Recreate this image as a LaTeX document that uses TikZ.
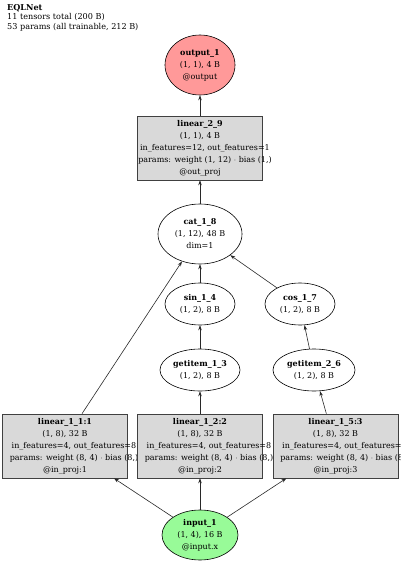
\documentclass[tikz,border=0pt]{standalone}
\usepackage{fontspec}
\setmainfont{DejaVu Serif}
\usetikzlibrary{arrows.meta,shapes.geometric}
\definecolor{boxgray}{RGB}{217,217,217}
\definecolor{outred}{RGB}{255,153,153}
\definecolor{ingreen}{RGB}{152,251,152}
\definecolor{edgecol}{RGB}{40,40,40}
\newcommand{\zl}[2][0pt]{\makebox[0pt][c]{\hspace*{#1}#2}}
\begin{document}
\begin{tikzpicture}[x=1pt,y=-1pt,
  lbl/.style={font=\fontsize{8}{12}\selectfont,align=center,inner sep=0pt},
  ell/.style={ellipse,draw=black,line width=0.6pt,lbl},
  bx/.style={rectangle,draw=black!75,line width=0.6pt,fill=boxgray,lbl,minimum width=125pt,minimum height=64pt},
  arr/.style={draw=edgecol,line width=0.6pt,-{Stealth[length=5pt,width=3.5pt]}}
]
\useasboundingbox (0,0) rectangle (400,564);
\node[anchor=north west,align=left,inner sep=0pt,font=\fontsize{8.1}{9.5}\selectfont] (hdr) at (7,4)
  {\textbf{EQLNet}\\11 tensors total (200 B)\\53 params (all trainable, 212 B)};

\node[ell,fill=outred,minimum width=70pt,minimum height=60pt] (out) at (200,65)
  {\textbf{output\_1}\\(1, 1), 4 B\\@output};
\node[bx] (l29) at (200,148)
  {\textbf{linear\_2\_9}\\(1, 1), 4 B\\\zl[10pt]{in\_features=12, out\_features=1}\\\zl[10pt]{params: weight (1, 12) $\cdot$ bias (1,)}\\@out\_proj};
\node[ell,fill=white,minimum width=84pt,minimum height=60pt] (cat) at (200,234)
  {\textbf{cat\_1\_8}\\(1, 12), 48 B\\dim=1};
\node[ell,fill=white,minimum width=70pt,minimum height=42pt] (sin) at (200,304)
  {\textbf{sin\_1\_4}\\(1, 2), 8 B};
\node[ell,fill=white,minimum width=70pt,minimum height=42pt] (cos) at (300,304)
  {\textbf{cos\_1\_7}\\(1, 2), 8 B};
\node[ell,fill=white,minimum width=80pt,minimum height=42pt] (g13) at (200,370)
  {\textbf{getitem\_1\_3}\\(1, 2), 8 B};
\node[ell,fill=white,minimum width=82pt,minimum height=42pt] (g26) at (314,370)
  {\textbf{getitem\_2\_6}\\(1, 2), 8 B};
\node[bx] (l1) at (65,446)
  {\textbf{linear\_1\_1:1}\\(1, 8), 32 B\\\zl[18pt]{in\_features=4, out\_features=8}\\\zl[18pt]{params: weight (8, 4) $\cdot$ bias (8,)}\\@in\_proj:1};
\node[bx] (l2) at (200,446)
  {\textbf{linear\_1\_2:2}\\(1, 8), 32 B\\\zl[18pt]{in\_features=4, out\_features=8}\\\zl[18pt]{params: weight (8, 4) $\cdot$ bias (8,)}\\@in\_proj:2};
\node[bx] (l3) at (335.5,446)
  {\textbf{linear\_1\_5:3}\\(1, 8), 32 B\\\zl[18pt]{in\_features=4, out\_features=8}\\\zl[18pt]{params: weight (8, 4) $\cdot$ bias (8,)}\\@in\_proj:3};
\node[ell,fill=ingreen,minimum width=76pt,minimum height=50pt] (in) at (200,535)
  {\textbf{input\_1}\\(1, 4), 16 B\\@input.x};

\draw[arr] (in) -- (l1);
\draw[arr] (in) -- (l2);
\draw[arr] (in) -- (l3);
\draw[arr] ([xshift=17pt]l1.north) -- (cat);
\draw[arr] (l2) -- (g13);
\draw[arr] (g13) -- (sin);
\draw[arr] (sin) -- (cat);
\draw[arr] (l3) -- (g26);
\draw[arr] (g26) -- (cos);
\draw[arr] (cos) -- (cat);
\draw[arr] (cat) -- (l29);
\draw[arr] (l29) -- (out);
\end{tikzpicture}
\end{document}
